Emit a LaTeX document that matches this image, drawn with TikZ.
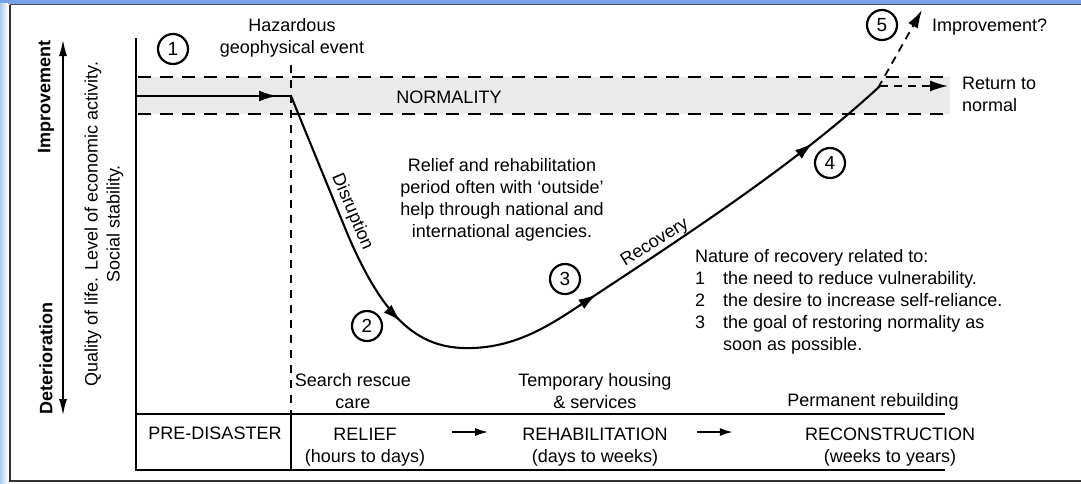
\documentclass[tikz,border=0pt]{standalone}
\usepackage{fontspec}
\setmainfont{Liberation Sans}
\usetikzlibrary{arrows.meta,decorations.markings}
\definecolor{framebl}{RGB}{118,163,230}
\definecolor{stripbl}{RGB}{175,203,240}
\definecolor{bandgray}{RGB}{234,234,234}
\begin{document}
\begin{tikzpicture}[x=1pt,y=-1pt,
  txt/.style={font=\fontsize{18}{22}\selectfont, inner sep=0pt, align=center},
  ltxt/.style={font=\fontsize{18}{22}\selectfont, inner sep=0pt, align=left},
  btxt/.style={font=\bfseries\fontsize{18}{22}\selectfont, inner sep=0pt},
  num/.style={circle, draw, line width=2.2pt, minimum size=30pt, inner sep=0pt, font=\fontsize{19}{22}\selectfont},
  bigtip/.style={-{Latex[length=18pt,width=11pt]}},
  band/.style={dash pattern=on 13pt off 9pt, line width=2pt},
  vdash/.style={dash pattern=on 8pt off 7pt, line width=1.5pt},
  curve/.style={line width=2.1pt, postaction={decorate}, decoration={markings,
     mark=at position 252pt with {\arrow{Latex[length=18pt,width=11pt]}},
     mark=at position 468pt with {\arrow{Latex[length=18pt,width=11pt]}},
     mark=at position 732pt with {\arrow{Latex[length=18pt,width=11pt]}}}},
  frame/.style={line width=2.1pt}
]
\useasboundingbox (0,0) rectangle (1081,483);
% screenshot border
\fill[framebl] (0,0) rectangle (1081,3.5);
\shade[left color=stripbl, right color=white] (0,3.5) rectangle (8,483);
\draw[black!70, line width=1.2pt] (10,4.5) -- (1081,4.5);
\draw[black!80, line width=1.8pt] (10,4.5) -- (10,481) -- (1081,481);

% normality band
\fill[bandgray] (136,77) rectangle (950,114);
\draw[band] (138,77) -- (945,77);
\draw[band] (138,114) -- (945,114);
\node[txt, anchor=base] (normality) at (449,103.5) {NORMALITY};

% axes and table
\draw[frame] (136,38) -- (136,470) -- (945,470);
\draw[frame] (136,414) -- (945,414);
\draw[frame] (291,414) -- (291,470);
\draw[vdash] (291,65) -- (291,414);

% left axis
\draw[line width=1.4pt, {Latex[length=16pt,width=8pt]}-{Latex[length=16pt,width=8pt]}] (63,40) -- (63,415);
\node[btxt, rotate=90, anchor=east] (impr) at (46,40) {Improvement};
\node[btxt, rotate=90, anchor=west] (deter) at (46,415) {Deterioration};
\node[txt, rotate=90] (quality) at (104,224) {Quality of life. Level of economic activity.\\Social stability.};

% coordinates of the curve
\coordinate (pre) at (136,96);
\coordinate (event) at (291,96);
\coordinate (ret) at (880,86);
\coordinate (normend) at (948,86);
\coordinate (impend) at (922,10);

\draw[line width=2.2pt, postaction={decorate}, decoration={markings,
   mark=at position 141pt with {\arrow{Latex[length=18pt,width=11pt]}}}] (pre) -- (event);
\draw[curve] (event) -- (345,228) .. controls (385,325) and (422,350) .. (473,348)
   .. controls (525,346) and (560,318) .. (600,292)
   .. controls (700,226) and (800,160) .. (ret);
\draw[line width=1.8pt, dash pattern=on 8pt off 6pt, bigtip] (ret) -- (normend);
\draw[line width=1.8pt, dash pattern=on 8pt off 6pt, bigtip] (878,88) -- (impend);

% labels on the curve
\node[txt, rotate=-67] (disr) at (352,212) {Disruption};
\node[txt, rotate=32] (recov) at (655,243) {Recovery};

% numbered circles
\node[num] (n1) at (173,49) {1};
\node[num] (n2) at (367,326) {2};
\node[num] (n3) at (565,279) {3};
\node[num] (n4) at (830,163) {4};
\node[num] (n5) at (882,25) {5};

% texts
\node[txt] (haz) at (292,38) {Hazardous\\geophysical event};
\node[ltxt, anchor=west] (retn) at (962,94) {Return to\\normal};
\node[ltxt, anchor=base west] (imq) at (932,31.5) {Improvement?};
\node[txt] (relief) at (502,200) {Relief and rehabilitation\\period often with `outside'\\help through national and\\international agencies.};
\node[ltxt, anchor=west] (nature) at (695,302) {Nature of recovery related to:\\
  \makebox[28pt][l]{1}the need to reduce vulnerability.\\
  \makebox[28pt][l]{2}the desire to increase self-reliance.\\
  \makebox[28pt][l]{3}the goal of restoring normality as\\
  \hspace*{28pt}soon as possible.};
\node[txt] (search) at (353,391) {Search rescue\\care};
\node[txt] (temp) at (595,391) {Temporary housing\\\& services};
\node[txt, anchor=base] (perm) at (873,406) {Permanent rebuilding};

% bottom row
\node[txt, anchor=base] (predis) at (215,439.5) {PRE-DISASTER};
\node[txt] (reliefph) at (365,447) {RELIEF\\(hours to days)};
\node[txt] (rehab) at (595,447) {REHABILITATION\\(days to weeks)};
\node[txt] (recon) at (890,447) {RECONSTRUCTION\\(weeks to years)};
\draw[line width=2pt, -{Latex[length=13pt,width=8pt]}] (reliefph.east |- 0,432) ++(27,0) coordinate (a1s) -- ++(36,0) coordinate (a1e);
\draw[line width=2pt, -{Latex[length=13pt,width=8pt]}] (rehab.east |- 0,432) ++(29,0) coordinate (a2s) -- ++(36,0) coordinate (a2e);
\end{tikzpicture}
\end{document}
